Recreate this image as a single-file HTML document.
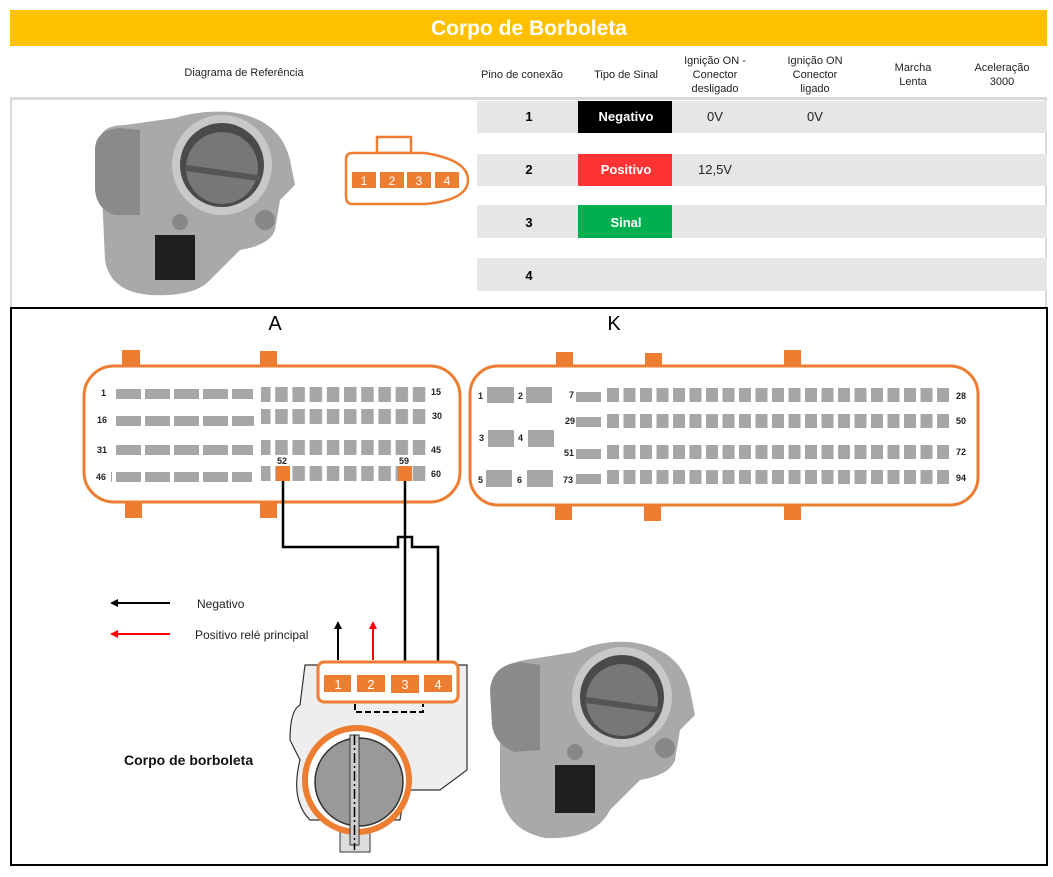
<!DOCTYPE html>
<html><head><meta charset="utf-8"><style>
html,body{margin:0;padding:0;background:#fff;}
svg{display:block;font-family:"Liberation Sans",Arial,sans-serif;}
</style></head><body>
<svg width="1053" height="877" viewBox="0 0 1053 877" xmlns="http://www.w3.org/2000/svg">
<defs>
<pattern id="sq" x="0" y="0" width="17.2" height="40" patternUnits="userSpaceOnUse"><rect x="0" y="0" width="12.5" height="40" fill="#a6a6a6"/></pattern>
<pattern id="sqk" x="607" y="0" width="16.5" height="40" patternUnits="userSpaceOnUse"><rect x="0" y="0" width="12" height="40" fill="#a6a6a6"/></pattern>
<pattern id="lr" x="0" y="0" width="29" height="40" patternUnits="userSpaceOnUse"><rect x="0" y="0" width="25" height="40" fill="#a6a6a6"/></pattern>
</defs>
<!-- header -->
<rect x="10" y="10" width="1037" height="36" fill="#ffc000"/>
<text x="529" y="35" font-size="21" font-weight="bold" fill="#fff" text-anchor="middle">Corpo de Borboleta</text>
<rect x="10" y="97" width="1037" height="3" fill="#d9d9d9"/>
<g font-size="11" fill="#222" text-anchor="middle">
<text x="244" y="76">Diagrama de Referência</text>
<text x="522" y="78">Pino de conexão</text>
<text x="626" y="78">Tipo de Sinal</text>
<text x="715" y="64">Ignição ON -</text><text x="715" y="78">Conector</text><text x="715" y="92">desligado</text>
<text x="815" y="64">Ignição ON</text><text x="815" y="78">Conector</text><text x="815" y="92">ligado</text>
<text x="913" y="71">Marcha</text><text x="913" y="85">Lenta</text>
<text x="1002" y="71">Aceleração</text><text x="1002" y="85">3000</text>
</g>
<rect x="10" y="100" width="2" height="207" fill="#d9d9d9"/><rect x="1045" y="100" width="2" height="207" fill="#d9d9d9"/>
<!-- table rows -->
<g fill="#e6e6e6">
<rect x="477" y="101" width="570" height="32"/>
<rect x="477" y="154" width="570" height="32"/>
<rect x="477" y="205" width="570" height="33"/>
<rect x="477" y="258" width="570" height="33"/>
</g>
<rect x="578" y="101" width="94" height="32" fill="#000"/>
<rect x="578" y="154" width="94" height="32" fill="#ff3333"/>
<rect x="578" y="205" width="94" height="33" fill="#00b050"/>
<g font-size="13" font-weight="bold" text-anchor="middle">
<text x="529" y="121">1</text><text x="529" y="174">2</text><text x="529" y="227">3</text><text x="529" y="280">4</text>
<text x="626" y="121" fill="#fff">Negativo</text><text x="626" y="174" fill="#fff">Positivo</text><text x="626" y="227" fill="#fff">Sinal</text>
</g>
<g font-size="13" fill="#222" text-anchor="middle">
<text x="715" y="121">0V</text><text x="815" y="121">0V</text><text x="715" y="174">12,5V</text>
</g>
<!-- small connector -->
<g stroke="#ed7d31" stroke-width="2.5" fill="#fff">
<rect x="377" y="137" width="34" height="16"/>
<path d="M352 153 H425 Q468 160 468 180 Q468 200 425 204 H352 Q346 204 346 196 V160 Q346 153 352 153Z"/>
</g>
<g fill="#ed7d31"><rect x="352" y="172" width="24" height="16"/><rect x="380" y="172" width="24" height="16"/><rect x="407" y="172" width="24" height="16"/><rect x="435" y="172" width="24" height="16"/></g>
<g fill="#fff" font-size="12" text-anchor="middle"><text x="364" y="185">1</text><text x="392" y="185">2</text><text x="419" y="185">3</text><text x="447" y="185">4</text></g>
<!-- photo top -->
<g>
<path d="M100 150 Q95 125 125 125 L175 118 Q200 110 230 112 Q280 118 290 160 L295 185 L280 200 L275 230 Q270 245 240 250 L210 280 Q195 297 150 295 Q110 292 105 260 Z" fill="#a9a9a9"/>
<path d="M95 150 Q95 130 120 128 L140 130 L140 215 L115 215 Q97 210 95 190Z" fill="#8a8a8a"/>
<circle cx="222" cy="165" r="50" fill="#c8c8c8"/><circle cx="222" cy="165" r="42" fill="#4a4a4a"/><circle cx="222" cy="168" r="36" fill="#777"/>
<rect x="185" y="170" width="75" height="6" fill="#555" transform="rotate(8 222 173)"/>
<rect x="155" y="235" width="40" height="45" fill="#1e1e1e"/>
<circle cx="265" cy="220" r="10" fill="#888"/><circle cx="180" cy="222" r="8" fill="#888"/>
</g>
<!-- bottom box -->
<rect x="11" y="308" width="1036" height="557" fill="none" stroke="#000" stroke-width="2"/>
<text x="275" y="330" font-size="20" text-anchor="middle">A</text>
<text x="614" y="330" font-size="20" text-anchor="middle">K</text>
<!-- connector A -->
<g fill="#ed7d31"><rect x="122" y="350" width="18" height="16"/><rect x="260" y="351" width="17" height="15"/><rect x="125" y="502" width="17" height="16"/><rect x="260" y="502" width="17" height="16"/></g>
<rect x="84" y="366" width="376" height="136" rx="30" fill="#fff" stroke="#ed7d31" stroke-width="3"/>
<rect x="112" y="389" width="141" height="10" fill="url(#lr)"/>
<rect x="113" y="416" width="141" height="10" fill="url(#lr)"/>
<rect x="112" y="445" width="141" height="10" fill="url(#lr)"/>
<rect x="111" y="472" width="141" height="10" fill="url(#lr)"/>
<rect x="261" y="387" width="167" height="15" fill="url(#sq)"/>
<rect x="261" y="409" width="167" height="15" fill="url(#sq)"/>
<rect x="261" y="440" width="167" height="15" fill="url(#sq)"/>
<rect x="261" y="466" width="167" height="15" fill="url(#sq)"/>
<rect x="276" y="466" width="14" height="15" fill="#ed7d31"/>
<rect x="398" y="466" width="14" height="15" fill="#ed7d31"/>
<g font-size="9" font-weight="bold" fill="#222">
<text x="101" y="396">1</text><text x="97" y="423">16</text><text x="97" y="453">31</text><text x="96" y="480">46</text>
<text x="431" y="395">15</text><text x="432" y="419">30</text><text x="431" y="453">45</text><text x="431" y="477">60</text>
<text x="277" y="464">52</text><text x="399" y="464">59</text>
</g>
<!-- connector K -->
<g fill="#ed7d31"><rect x="556" y="352" width="17" height="15"/><rect x="645" y="353" width="17" height="14"/><rect x="784" y="350" width="17" height="17"/><rect x="555" y="505" width="17" height="15"/><rect x="644" y="505" width="17" height="16"/><rect x="784" y="505" width="17" height="15"/></g>
<rect x="470" y="366" width="508" height="139" rx="28" fill="#fff" stroke="#ed7d31" stroke-width="3"/>
<g fill="#a6a6a6">
<rect x="487" y="387" width="27" height="16"/><rect x="526" y="387" width="26" height="16"/>
<rect x="488" y="430" width="26" height="17"/><rect x="528" y="430" width="26" height="17"/>
<rect x="486" y="470" width="26" height="17"/><rect x="527" y="470" width="26" height="17"/>
<rect x="576" y="392" width="25" height="10"/><rect x="576" y="417" width="25" height="10"/><rect x="576" y="449" width="25" height="10"/><rect x="576" y="474" width="25" height="10"/>
</g>
<rect x="607" y="388" width="343" height="14" fill="url(#sqk)"/>
<rect x="607" y="414" width="343" height="14" fill="url(#sqk)"/>
<rect x="607" y="445" width="343" height="14" fill="url(#sqk)"/>
<rect x="607" y="470" width="343" height="14" fill="url(#sqk)"/>
<g font-size="9" font-weight="bold" fill="#222">
<text x="478" y="399">1</text><text x="518" y="399">2</text><text x="479" y="441">3</text><text x="518" y="441">4</text><text x="478" y="483">5</text><text x="517" y="483">6</text>
<text x="569" y="398">7</text><text x="565" y="424">29</text><text x="564" y="456">51</text><text x="563" y="483">73</text>
<text x="956" y="399">28</text><text x="956" y="424">50</text><text x="956" y="455">72</text><text x="956" y="481">94</text>
</g>
<!-- wires -->
<g fill="none" stroke="#000" stroke-width="2.5">
<path d="M283 481 V547 H398 V537 H412 V547 H438 V662"/>
<path d="M405 481 V662"/>
</g>
<!-- legend -->
<line x1="170" y1="603" x2="115" y2="603" stroke="#000" stroke-width="2"/><path d="M110 603 L118 599 L118 607Z" fill="#000"/>
<line x1="170" y1="634" x2="115" y2="634" stroke="#ff0000" stroke-width="2"/><path d="M110 634 L118 630 L118 638Z" fill="#ff0000"/>
<text x="197" y="608" font-size="12" fill="#222">Negativo</text>
<text x="195" y="639" font-size="12" fill="#222">Positivo relé principal</text>
<!-- throttle drawing -->
<g stroke="#333" stroke-width="1.2" fill="#eee">
<path d="M305 665 H467 V770 L440 790 H405 L400 820 H310 Q290 800 300 760 L290 740 Q290 710 300 705 Z"/>
</g>
<path d="M338 660 V627" stroke="#000" stroke-width="2"/><path d="M338 621 L334 629 L342 629Z" fill="#000"/>
<path d="M373 660 V627" stroke="#ff0000" stroke-width="2"/><path d="M373 621 L369 629 L377 629Z" fill="#ff0000"/>
<rect x="318" y="662" width="140" height="40" rx="6" fill="#fff" stroke="#ed7d31" stroke-width="3"/>
<g fill="#ed7d31"><rect x="324" y="675" width="27" height="17"/><rect x="357" y="675" width="28" height="17"/><rect x="391" y="675" width="28" height="18"/><rect x="424" y="675" width="28" height="17"/></g>
<g fill="#fff" font-size="13" text-anchor="middle"><text x="338" y="689">1</text><text x="371" y="689">2</text><text x="405" y="689">3</text><text x="438" y="689">4</text></g>
<path d="M355 704 V712 H423 V704" fill="none" stroke="#000" stroke-width="2" stroke-dasharray="6,3"/>
<rect x="340" y="810" width="30" height="42" fill="#ddd" stroke="#333"/>
<circle cx="357" cy="780" r="52" fill="#fff" stroke="#ed7d31" stroke-width="6"/>
<circle cx="359" cy="782" r="44" fill="#999" stroke="#333" stroke-width="1.5"/>
<rect x="350" y="735" width="9" height="110" fill="#ccc" stroke="#333"/>
<line x1="354.5" y1="735" x2="354.5" y2="850" stroke="#000" stroke-width="1.5" stroke-dasharray="10,3,2,3"/>
<text x="124" y="765" font-size="14" font-weight="bold" fill="#111">Corpo de borboleta</text>
<!-- photo bottom -->
<g>
<path d="M500 690 Q495 665 525 660 L575 652 Q600 640 630 642 Q680 648 690 690 L695 715 L680 730 L675 760 Q670 775 640 780 L610 810 Q595 840 545 838 Q505 830 500 790 Z" fill="#a9a9a9"/>
<path d="M490 690 Q492 665 520 662 L540 665 L540 750 L515 752 Q495 745 492 725Z" fill="#8a8a8a"/>
<circle cx="622" cy="697" r="50" fill="#c8c8c8"/><circle cx="622" cy="697" r="42" fill="#4a4a4a"/><circle cx="622" cy="700" r="36" fill="#777"/>
<rect x="585" y="702" width="75" height="6" fill="#555" transform="rotate(8 622 705)"/>
<rect x="555" y="765" width="40" height="48" fill="#1e1e1e"/>
<circle cx="665" cy="748" r="10" fill="#888"/><circle cx="575" cy="752" r="8" fill="#888"/>
</g>
</svg>
</body></html>
